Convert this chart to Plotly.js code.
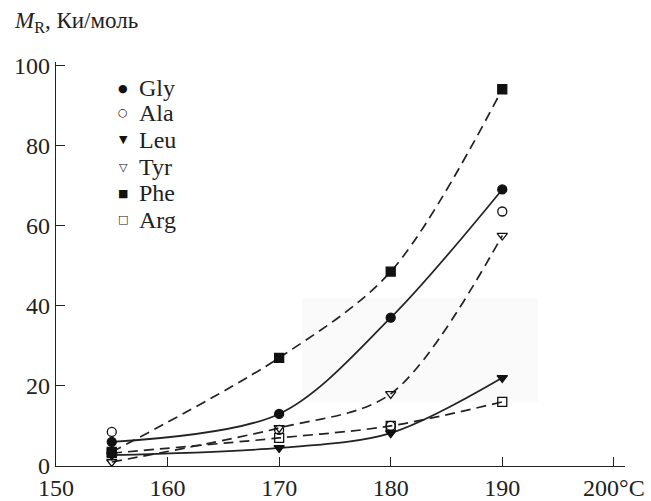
<!DOCTYPE html>
<html>
<head>
<meta charset="utf-8">
<script src="https://cdn.plot.ly/plotly-3.0.1.min.js"></script>
<style>html,body{margin:0;padding:0;background:#fff;}#chart{width:651px;height:501px;}</style>
</head>
<body>
<div id="chart"></div>
<script>
// Temperatures (°C)
const temps = [155, 170, 180, 190];
// Series values, M_R (Ки/моль)
const gly = [6, 13, 37, 69];
const ala = [8.5, 9, 10, 63.5];
const leu = [2.7, 4.5, 8.2, 22];
const tyr = [1, 9.5, 18, 57.5];
const phe = [3.5, 27, 48.5, 94];
const arg = [3.2, 7, 10, 16];
const seriesNames = ['Gly', 'Ala', 'Leu', 'Tyr', 'Phe', 'Arg'];
const legendGlyphs = ['●', '○', '▼', '▽', '■', '□'];
const xTickVals = [150, 160, 170, 180, 190, 200];
const xTickText = ['150', '160', '170', '180', '190', '200°C'];
const yTickVals = [0, 20, 40, 60, 80, 100];

const values = [gly, ala, leu, tyr, phe, arg];
const symbols = ['circle', 'circle-open', 'triangle-down', 'triangle-down-open', 'square', 'square-open'];
const lineDash = ['solid', null, 'solid', '10px,6px', '10px,6px', '10px,6px'];

const traces = [];
values.forEach((v, i) => {
  if (lineDash[i]) {
    traces.push({
      x: temps, y: v, mode: 'lines', showlegend: false, hoverinfo: 'skip',
      line: {color: '#222', width: 1.7, dash: lineDash[i], shape: 'spline', smoothing: 0.9}
    });
  }
});
values.forEach((v, i) => {
  traces.push({
    x: temps, y: v, mode: 'markers', name: seriesNames[i], showlegend: false,
    marker: {symbol: symbols[i], size: 9, color: '#111', line: {color: '#111', width: 1.3}}
  });
});

const serif = 'Liberation Serif, Times New Roman, serif';
const annotations = [{
  text: '<i>M</i><sub>R</sub>, Ки/моль', xref: 'paper', yref: 'paper', x: -0.078, y: 1.099,
  xanchor: 'left', yanchor: 'middle', showarrow: false,
  font: {family: serif, size: 23, color: '#222'}
}];
const rowY = [0.9356, 0.8738, 0.807, 0.740, 0.6757, 0.609];
seriesNames.forEach((n, i) => {
  annotations.push({text: legendGlyphs[i], xref: 'paper', yref: 'paper', x: 0.1178, y: rowY[i],
    xanchor: 'center', yanchor: 'middle', showarrow: false,
    font: {family: 'DejaVu Sans, sans-serif', size: 11, color: '#111'}});
  annotations.push({text: n, xref: 'paper', yref: 'paper', x: 0.142, y: rowY[i],
    xanchor: 'left', yanchor: 'middle', showarrow: false,
    font: {family: serif, size: 24, color: '#222'}});
});

const layout = {
  width: 651, height: 501,
  margin: {l: 56, r: 26, t: 62, b: 35},
  paper_bgcolor: '#fff', plot_bgcolor: '#fff',
  font: {family: serif, size: 24, color: '#222'},
  showlegend: false,
  xaxis: {range: [150, 201], tickvals: xTickVals, ticktext: xTickText, ticks: 'inside', ticklen: 9,
          tickcolor: '#222', showgrid: false, zeroline: false, showline: true, linecolor: '#222', linewidth: 1.3,
          tickfont: {size: 24}},
  yaxis: {range: [0, 100.8], tickvals: yTickVals, ticks: 'inside', ticklen: 9, tickcolor: '#222',
          showgrid: false, zeroline: false, showline: true, linecolor: '#222', linewidth: 1.3,
          tickfont: {size: 24}},
  shapes: [{type: 'rect', xref: 'paper', yref: 'paper', layer: 'below',
            x0: (302 - 56) / 569, x1: (538 - 56) / 569, y0: (466 - 402) / 404, y1: (466 - 298) / 404,
            fillcolor: '#fafafa', line: {width: 0}}],
  annotations: annotations
};

Plotly.newPlot('chart', traces, layout, {displayModeBar: false, staticPlot: true});
</script>
</body>
</html>
